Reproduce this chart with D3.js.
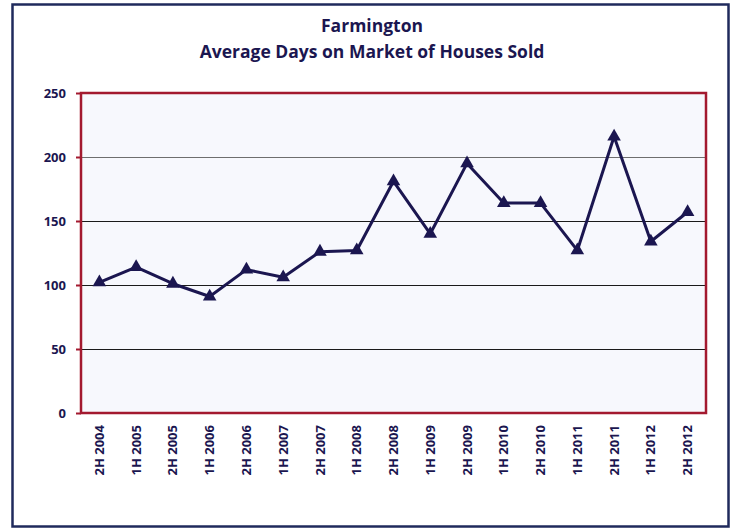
<!DOCTYPE html>
<html>
<head>
<meta charset="utf-8">
<script src="https://cdn.jsdelivr.net/npm/d3@7"></script>
<style>
  html, body { margin: 0; padding: 0; background: #ffffff; }
  svg { display: block; }
</style>
</head>
<body>
<svg id="chart" width="735" height="529"></svg>
<script>
// Half-year periods
const periods = ["2H 2004", "1H 2005", "2H 2005", "1H 2006", "2H 2006", "1H 2007",
  "2H 2007", "1H 2008", "2H 2008", "1H 2009", "2H 2009", "1H 2010", "2H 2010",
  "1H 2011", "2H 2011", "1H 2012", "2H 2012"];
// Average days on market
const avgDays = [102, 114, 101, 91, 112, 106, 126, 127, 181, 140, 195, 164, 164, 127, 216, 134, 157];
const yTicks = [0, 50, 100, 150, 200, 250];
const titleLines = ["Farmington", "Average Days on Market of Houses Sold"];

const navy = "#1b1650";
const svg = d3.select("#chart");
const font = "'Open Sans', 'Liberation Sans', sans-serif";

// outer frame
svg.append("rect")
  .attr("x", 12.5).attr("y", 4.5).attr("width", 716).attr("height", 522)
  .attr("fill", "#ffffff").attr("stroke", "#1f2a5c").attr("stroke-width", 2.5);

// title
svg.append("g").selectAll("text").data(titleLines).join("text")
  .attr("x", 372).attr("y", (d, i) => 32 + i * 26)
  .attr("text-anchor", "middle")
  .attr("font-family", font).attr("font-weight", 700).attr("font-size", 17.5)
  .attr("fill", navy)
  .text(d => d);

const plot = { left: 81, right: 706, top: 93, bottom: 413 };

const x = d3.scaleBand().domain(periods).range([plot.left, plot.right]);
const y = d3.scaleLinear().domain([0, 250]).range([plot.bottom, plot.top]);

// plot background
svg.append("rect")
  .attr("x", plot.left).attr("y", plot.top)
  .attr("width", plot.right - plot.left).attr("height", plot.bottom - plot.top)
  .attr("fill", "#f7f8fd");

// gridlines
svg.append("g").selectAll("line").data(yTicks.filter(t => t > 0 && t < 250)).join("line")
  .attr("x1", plot.left).attr("x2", plot.right)
  .attr("y1", d => Math.round(y(d)) + 0.5).attr("y2", d => Math.round(y(d)) + 0.5)
  .attr("stroke", d => d === 200 ? "#6e6e6e" : "#1a1a1a").attr("stroke-width", 1.2);

// y axis
const yAxis = svg.append("g")
  .attr("transform", `translate(${plot.left},0)`)
  .call(d3.axisLeft(y).tickValues(yTicks).tickSize(5).tickPadding(10));
yAxis.select(".domain").remove();
yAxis.selectAll(".tick line").attr("stroke", "#a3192f").attr("stroke-width", 2);
yAxis.selectAll(".tick text")
  .attr("font-family", font).attr("font-weight", 700).attr("font-size", 13)
  .attr("fill", navy);

// x axis labels (rotated)
const xAxis = svg.append("g")
  .attr("transform", `translate(0,${plot.bottom})`)
  .call(d3.axisBottom(x).tickSize(0).tickPadding(0));
xAxis.select(".domain").remove();
xAxis.selectAll(".tick text")
  .attr("font-family", font).attr("font-weight", 700).attr("font-size", 13)
  .attr("fill", navy)
  .attr("transform", "rotate(-90)")
  .attr("text-anchor", "end")
  .attr("x", -12).attr("y", 0).attr("dy", "0.35em");

// plot border
svg.append("rect")
  .attr("x", plot.left).attr("y", plot.top)
  .attr("width", plot.right - plot.left).attr("height", plot.bottom - plot.top)
  .attr("fill", "none").attr("stroke", "#a3192f").attr("stroke-width", 2.5);

// series line
const cx = d => x(d) + x.bandwidth() / 2;
const line = d3.line().x((d, i) => cx(periods[i])).y(d => y(d));
svg.append("path")
  .datum(avgDays)
  .attr("d", line)
  .attr("fill", "none").attr("stroke", navy).attr("stroke-width", 3)
  .attr("stroke-linejoin", "round");

// triangle markers
const tri = d3.symbol().type(d3.symbolTriangle).size(80);
svg.append("g").selectAll("path").data(avgDays).join("path")
  .attr("d", tri)
  .attr("transform", (d, i) => `translate(${cx(periods[i])},${y(d)})`)
  .attr("fill", navy);
</script>
</body>
</html>
